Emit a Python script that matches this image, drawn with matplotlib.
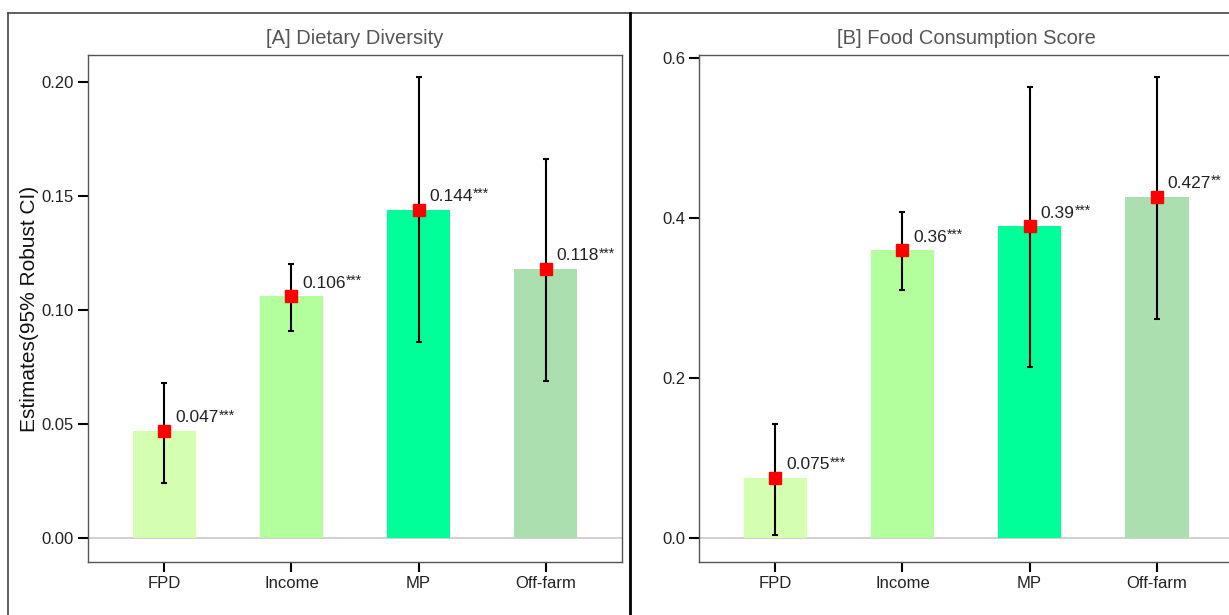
import matplotlib
matplotlib.use("Agg")
import matplotlib.pyplot as plt
from matplotlib.lines import Line2D

plt.rcParams["font.family"] = ["Liberation Sans", "DejaVu Sans"]

categories = ["FPD", "Income", "MP", "Off-farm"]
bar_colors = ["#d4ffb0", "#b3ff9e", "#00ff99", "#acdfb0"]

# [A] Dietary Diversity
dd_est = [0.047, 0.106, 0.144, 0.118]
dd_low = [0.024, 0.091, 0.086, 0.069]
dd_high = [0.068, 0.120, 0.202, 0.166]
dd_stars = ["***", "***", "***", "***"]

# [B] Food Consumption Score
fcs_est = [0.075, 0.36, 0.39, 0.427]
fcs_low = [0.004, 0.310, 0.214, 0.274]
fcs_high = [0.142, 0.408, 0.564, 0.576]
fcs_stars = ["***", "***", "***", "**"]

W, H = 1229, 615
fig = plt.figure(figsize=(W / 100, H / 100), dpi=100)


def px_axes(x0, y0, x1, y1):
    return fig.add_axes([x0 / W, 1 - y1 / H, (x1 - x0) / W, (y1 - y0) / H])


def panel(ax, title, est, low, high, stars, ylim, yticks, fmt):
    x = list(range(len(categories)))
    ax.bar(x, est, width=0.5, color=bar_colors, zorder=2)
    ax.axhline(0, color="#c8c8c8", lw=1.2, zorder=1)
    yerr = [[e - l for e, l in zip(est, low)], [h - e for e, h in zip(est, high)]]
    ax.errorbar(x, est, yerr=yerr, fmt="none", ecolor="black", elinewidth=1.5,
                capsize=2, capthick=1.5, zorder=3)
    ax.plot(x, est, "s", color="#ff0000", ms=8.5, zorder=4)
    for xi, e, s in zip(x, est, stars):
        t = ax.annotate(f"{e:g}", xy=(xi, e), xytext=(8, 4), textcoords="offset points",
                        ha="left", va="bottom", fontsize=12.5, color="#222222", zorder=5)
        ax.annotate(s, xy=(1.0, 1.12), xycoords=t, ha="left", va="top",
                    fontsize=10, color="#222222")
    ax.set_xlim(-0.6, 3.6)
    ax.set_ylim(*ylim)
    ax.set_yticks(yticks)
    ax.set_yticklabels([fmt.format(v) for v in yticks])
    ax.set_xticks(x)
    ax.set_xticklabels(categories)
    ax.tick_params(axis="both", direction="out", length=7, width=1.5, color="black",
                   labelsize=12, labelcolor="#222222", pad=3)
    for sp in ax.spines.values():
        sp.set_color("#555555")
        sp.set_linewidth(1.0)
    ax.set_title(title, fontsize=14.5, color="#555555", pad=8)


ax1 = px_axes(88, 55, 622, 562)
panel(ax1, "[A] Dietary Diversity", dd_est, dd_low, dd_high, dd_stars,
      (-0.0105, 0.2118), [0.0, 0.05, 0.10, 0.15, 0.20], "{:.2f}")
ax1.set_ylabel("Estimates(95% Robust CI)", fontsize=15, color="#111111", labelpad=2)

ax2 = px_axes(699, 55, 1233, 562)
panel(ax2, "[B] Food Consumption Score", fcs_est, fcs_low, fcs_high, fcs_stars,
      (-0.03, 0.604), [0.0, 0.2, 0.4, 0.6], "{:.1f}")

# panel frames
def fline(xs, ys, **kw):
    fig.add_artist(Line2D([v / W for v in xs], [1 - v / H for v in ys], **kw))

fline([8, 8], [13, 620], color="#444444", lw=1.2)
fline([8, 1240], [13, 13], color="#444444", lw=1.2)
fline([630, 630], [13, 620], color="black", lw=2.0)

fig.savefig("out.png", dpi=100)
